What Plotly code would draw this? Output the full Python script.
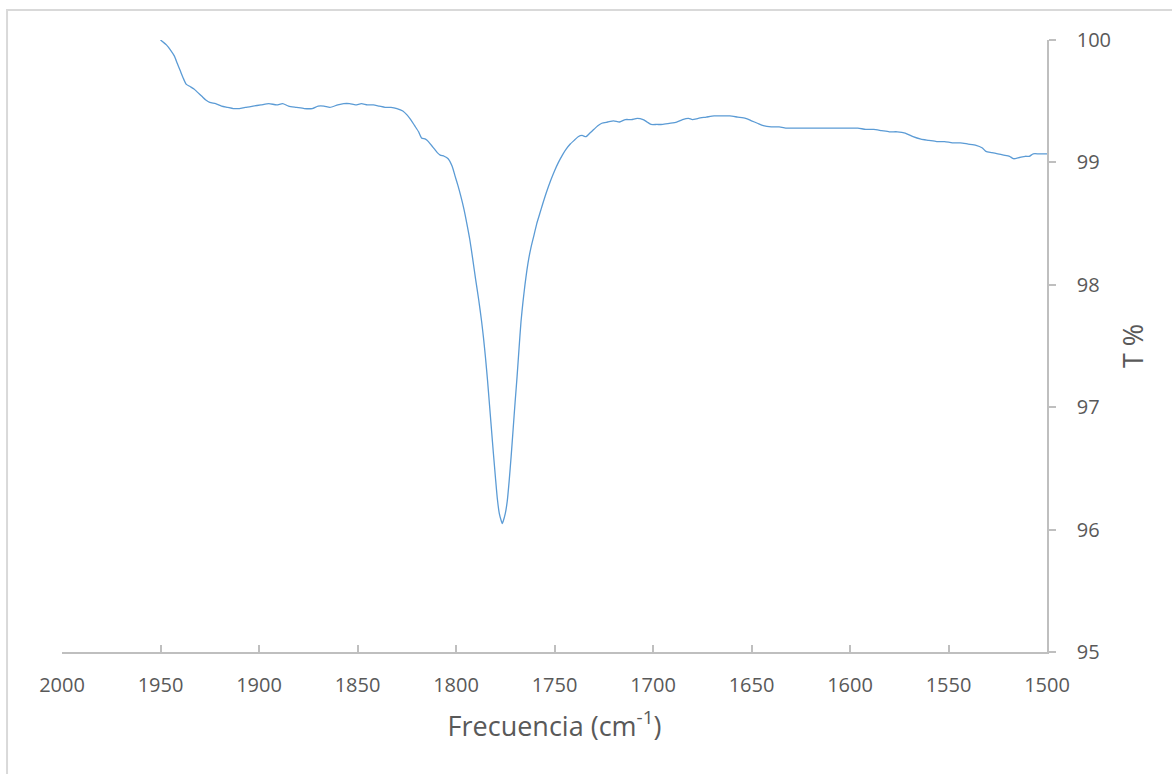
import plotly.graph_objects as go

# Wavenumber (cm-1) and transmittance (%)
wavenumber = [
    1950, 1947, 1945, 1943, 1941.5, 1940, 1938.5, 1937, 1935, 1933, 1931, 1929, 1927, 1925,
    1922, 1919, 1916, 1913, 1910, 1907, 1903, 1899, 1895, 1891, 1888, 1885, 1881, 1877,
    1873, 1870, 1867, 1864, 1860, 1857, 1854, 1851, 1848, 1845, 1842, 1839, 1836, 1833,
    1830, 1827, 1825, 1823, 1821, 1819, 1817.5, 1815.5, 1814, 1812.5, 1811, 1809.5, 1808,
    1806, 1804, 1802, 1800.5, 1799, 1797.5, 1796, 1794.5, 1793, 1791.5, 1790, 1788.5,
    1787, 1786, 1785, 1784, 1783, 1782, 1781, 1780, 1779, 1778, 1777, 1776.5, 1776, 1775,
    1774, 1773, 1772, 1771, 1770, 1769, 1768, 1767, 1766, 1765, 1764, 1763, 1762, 1760.5,
    1759, 1757.5, 1756, 1754, 1752, 1750, 1748, 1746, 1744, 1742, 1740, 1738, 1736, 1734,
    1732, 1730, 1728, 1726, 1723, 1720, 1717, 1714, 1711, 1708, 1705, 1703, 1701, 1698,
    1695, 1691, 1688, 1685, 1682, 1680, 1677, 1673, 1669, 1665, 1661, 1657, 1653, 1650,
    1647, 1644, 1640, 1636, 1632, 1630, 1627, 1622, 1617, 1612, 1607, 1603, 1600, 1596,
    1592, 1588, 1584, 1580, 1576, 1572, 1568, 1564, 1560, 1556, 1552, 1548, 1544, 1540,
    1536, 1533, 1531, 1528, 1525, 1522, 1519, 1517, 1514, 1511, 1509, 1507, 1504, 1500,
]
transmittance = [
    100.00, 99.96, 99.92, 99.87, 99.81, 99.75, 99.69, 99.64, 99.62, 99.60, 99.57, 99.54, 99.51, 99.49,
    99.48, 99.46, 99.45, 99.44, 99.44, 99.45, 99.46, 99.47, 99.48, 99.47, 99.48, 99.46, 99.45, 99.44,
    99.44, 99.46, 99.46, 99.45, 99.47, 99.48, 99.48, 99.47, 99.48, 99.47, 99.47, 99.46, 99.45, 99.45,
    99.44, 99.42, 99.39, 99.35, 99.30, 99.25, 99.20, 99.19, 99.17, 99.14, 99.11, 99.08, 99.06,
    99.05, 99.03, 98.97, 98.89, 98.81, 98.72, 98.62, 98.50, 98.37, 98.21, 98.04, 97.88,
    97.70, 97.56, 97.40, 97.22, 97.02, 96.82, 96.62, 96.43, 96.25, 96.13, 96.07, 96.05, 96.07, 96.13,
    96.23, 96.40, 96.60, 96.82, 97.04, 97.25, 97.48, 97.70, 97.86, 98.00, 98.12, 98.22, 98.30, 98.40,
    98.50, 98.58, 98.66, 98.76, 98.85, 98.93, 99.00, 99.06, 99.11, 99.15, 99.18, 99.21, 99.22, 99.21,
    99.24, 99.27, 99.30, 99.32, 99.33, 99.34, 99.33, 99.35, 99.35, 99.36, 99.35, 99.33, 99.31, 99.31,
    99.31, 99.32, 99.33, 99.35, 99.36, 99.35, 99.36, 99.37, 99.38, 99.38, 99.38, 99.37, 99.36, 99.34,
    99.32, 99.30, 99.29, 99.29, 99.28, 99.28, 99.28, 99.28, 99.28, 99.28, 99.28, 99.28, 99.28, 99.28,
    99.27, 99.27, 99.26, 99.25, 99.25, 99.24, 99.21, 99.19, 99.18, 99.17, 99.17, 99.16, 99.16, 99.15,
    99.14, 99.12, 99.09, 99.08, 99.07, 99.06, 99.05, 99.03, 99.04, 99.05, 99.05, 99.07, 99.07, 99.07,
]

x_ticks = [2000, 1950, 1900, 1850, 1800, 1750, 1700, 1650, 1600, 1550, 1500]
y_ticks = [95, 96, 97, 98, 99, 100]

FONT = "Open Sans"
TXT = "#595959"
AX = "#bfbfbf"

fig = go.Figure()
fig.add_trace(go.Scatter(
    x=wavenumber, y=transmittance, mode="lines",
    line=dict(color="#5B9BD5", width=1.3, shape="spline", smoothing=0.6), showlegend=False,
))

fig.update_layout(
    width=1172, height=774,
    margin=dict(l=62, r=125, t=40, b=122),
    paper_bgcolor="white", plot_bgcolor="white",
    font=dict(family=FONT, color=TXT),
    shapes=[dict(type="rect", xref="paper", yref="paper",
                 x0=-0.0558, x1=1.14, y0=-0.23, y1=1.049,
                 line=dict(color="#d9d9d9", width=2), fillcolor="rgba(0,0,0,0)",
                 layer="below")],
)
fig.update_xaxes(
    range=[2000, 1500], tickvals=x_ticks, ticktext=[str(v) for v in x_ticks],
    ticks="inside", ticklen=7, tickcolor=AX, tickwidth=1.5,
    showline=True, linecolor=AX, linewidth=1.5,
    showgrid=False, zeroline=False,
    tickfont=dict(family=FONT, size=20, color=TXT),
    ticklabelstandoff=14,
    title=dict(text="Frecuencia (cm<sup>-1</sup>)", font=dict(family=FONT, size=27, color=TXT), standoff=20),
)
fig.update_yaxes(
    range=[95, 100], side="right", tickvals=y_ticks, ticktext=[str(v) for v in y_ticks],
    ticks="outside", ticklen=7, tickcolor=AX, tickwidth=1.5,
    showline=True, linecolor=AX, linewidth=1.5,
    showgrid=False, zeroline=False,
    tickfont=dict(family=FONT, size=20, color=TXT),
    ticklabelstandoff=17,
    title=dict(text="T %", font=dict(family=FONT, size=27, color=TXT), standoff=14),
)

fig.write_html("out.html")
